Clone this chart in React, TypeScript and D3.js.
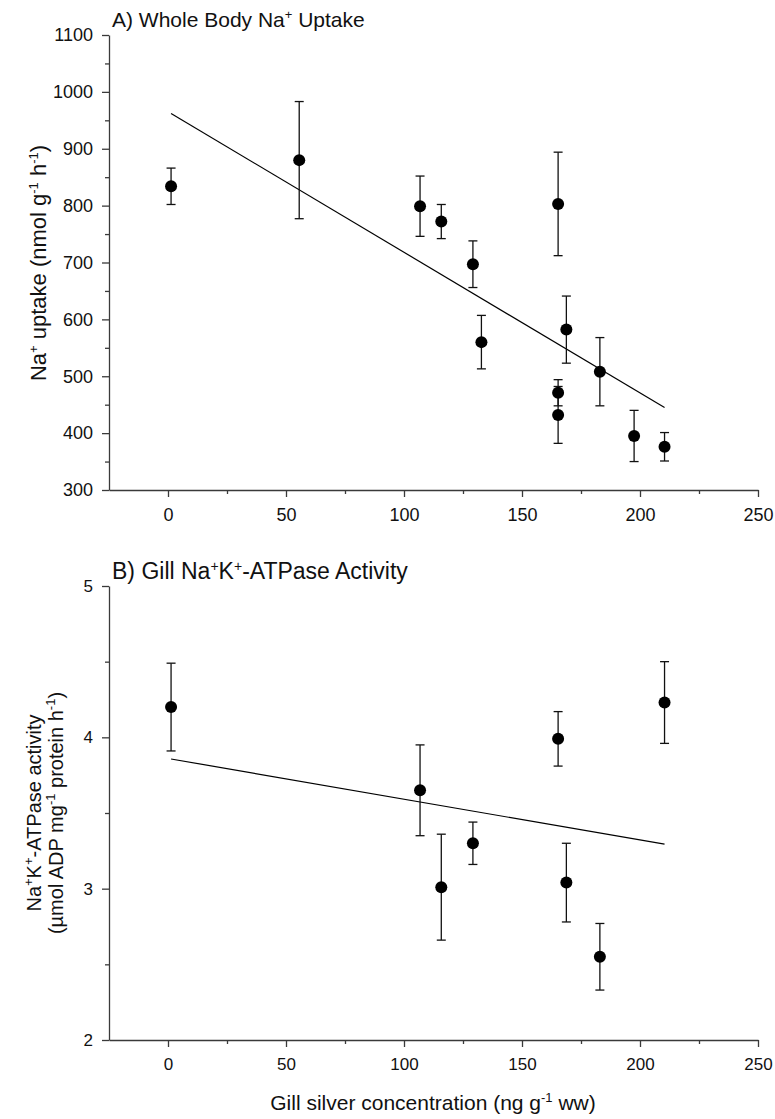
import React, { useEffect, useRef } from 'react';
import { select, scaleLinear, axisBottom, axisLeft, line } from 'd3';

const FONT = '"Liberation Sans", Arial, Helvetica, sans-serif';

// shared x axis (gill silver, ng/g ww)
const xDomain = [-25, 250];
const xMajor = [0, 50, 100, 150, 200, 250];
const xMinor = [25, 75, 125, 175, 225];

// A) whole body Na+ uptake
const naSilver = [1.3, 55.6, 106.8, 115.8, 129.2, 132.8, 165.3, 165.3, 165.3, 168.8, 183, 197.5, 210.4];
const naUptake = [834, 880, 799, 772, 697, 560, 803, 471, 432, 582, 508, 395, 376];
const naSem = [32, 103, 53, 30, 41, 47, 91, 23, 50, 59, 60, 45, 25];
const naFitX = [1.3, 210.4];
const naFitY = [962, 445];
const naMajor = [300, 400, 500, 600, 700, 800, 900, 1000, 1100];
const naMinor = [350, 450, 550, 650, 750, 850, 950, 1050];

// B) gill Na+K+-ATPase activity
const atpSilver = [1.3, 106.8, 115.8, 129.2, 165.3, 168.8, 183, 210.4];
const atpActivity = [4.2, 3.65, 3.01, 3.3, 3.99, 3.04, 2.55, 4.23];
const atpSem = [0.29, 0.3, 0.35, 0.14, 0.18, 0.26, 0.22, 0.27];
const atpFitX = [1.3, 210.4];
const atpFitY = [3.857, 3.294];
const atpMajor = [2, 3, 4, 5];
const atpMinor = [2.5, 3.5, 4.5];

const Panel = ({ top, bottom, xs, ys, sems, fitX, fitY, yDomain, yMajor, yMinor, fontSize }) => {
  const gRef = useRef(null);

  useEffect(() => {
    const g = select(gRef.current);
    g.selectAll('*').remove();

    const x = scaleLinear().domain(xDomain).range([109, 758]);
    const y = scaleLinear().domain(yDomain).range([bottom, top]);
    const fmt = d => String(d);

    // axes
    const xAxis = g.append('g').attr('transform', `translate(0, ${bottom})`);
    xAxis.call(axisBottom(x).tickValues(xMajor).tickFormat(fmt).tickSize(7).tickSizeOuter(0).tickPadding(11));
    xAxis.append('g').call(axisBottom(x).tickValues(xMinor).tickSize(4).tickFormat(() => ''))
      .select('.domain').remove();

    const yAxis = g.append('g').attr('transform', 'translate(109, 0)');
    yAxis.call(axisLeft(y).tickValues(yMajor).tickFormat(fmt).tickSize(7).tickSizeOuter(0).tickPadding(9));
    yAxis.append('g').call(axisLeft(y).tickValues(yMinor).tickSize(4).tickFormat(() => ''))
      .select('.domain').remove();

    g.selectAll('.domain, .tick line').attr('stroke', '#3a3a3a').attr('stroke-width', 1.3);
    g.selectAll('.tick text')
      .attr('font-family', FONT)
      .attr('font-size', fontSize)
      .attr('fill', '#111');

    // regression line
    const fit = fitX.map((v, i) => [x(v), y(fitY[i])]);
    g.append('path')
      .attr('d', line()(fit))
      .attr('fill', 'none')
      .attr('stroke', '#000')
      .attr('stroke-width', 1.2);

    // error bars
    const pts = xs.map((v, i) => ({ x: v, y: ys[i], e: sems[i] }));
    const bars = g.append('g').attr('stroke', '#111').attr('stroke-width', 1.3);
    bars.selectAll('line.v')
      .data(pts)
      .join('line')
      .attr('class', 'v')
      .attr('x1', d => x(d.x)).attr('x2', d => x(d.x))
      .attr('y1', d => y(d.y - d.e)).attr('y2', d => y(d.y + d.e));
    bars.selectAll('line.cap')
      .data(pts.flatMap(d => [d.y - d.e, d.y + d.e].map(v => ({ x: d.x, v }))))
      .join('line')
      .attr('class', 'cap')
      .attr('x1', d => x(d.x) - 4.5).attr('x2', d => x(d.x) + 4.5)
      .attr('y1', d => y(d.v)).attr('y2', d => y(d.v));

    // means
    g.append('g')
      .selectAll('circle')
      .data(pts)
      .join('circle')
      .attr('cx', d => x(d.x))
      .attr('cy', d => y(d.y))
      .attr('r', 6)
      .attr('fill', '#000');
  }, [top, bottom, xs, ys, sems, fitX, fitY, yDomain, yMajor, yMinor, fontSize]);

  return <g ref={gRef} />;
};

// text with superscripts: parts alternate normal / superscript
const Label = ({ parts, supSize, rise, ...rest }) => {
  let lifted = false;
  return (
    <text {...rest}>
      {parts.map((p, i) => {
        const sup = i % 2 === 1;
        let dy = 0;
        if (sup && !lifted) { dy = -rise; lifted = true; }
        if (!sup && lifted) { dy = rise; lifted = false; }
        return (
          <tspan key={i} dy={dy || undefined} fontSize={sup ? supSize : undefined}>{p}</tspan>
        );
      })}
    </text>
  );
};

export default function App() {
  return (
    <svg
      width={775}
      height={1119}
      style={{ position: 'absolute', left: 0, top: 0, background: '#fff' }}
      fontFamily={FONT}
      fill="#111"
    >
      <Panel
        top={35}
        bottom={490}
        xs={naSilver}
        ys={naUptake}
        sems={naSem}
        fitX={naFitX}
        fitY={naFitY}
        yDomain={[300, 1100]}
        yMajor={naMajor}
        yMinor={naMinor}
        fontSize={18}
      />
      <Panel
        top={586}
        bottom={1040}
        xs={atpSilver}
        ys={atpActivity}
        sems={atpSem}
        fitX={atpFitX}
        fitY={atpFitY}
        yDomain={[2, 5]}
        yMajor={atpMajor}
        yMinor={atpMinor}
        fontSize={17}
      />

      {/* panel titles */}
      <Label x={112} y={27} fontSize={21} supSize={13} rise={8}
        parts={['A) Whole Body Na', '+', ' Uptake']} />
      <Label x={112} y={579} fontSize={23} supSize={14} rise={8}
        parts={['B) Gill Na', '+', 'K', '+', '-ATPase Activity']} />

      {/* y titles */}
      <Label transform="translate(46, 263) rotate(-90)" textAnchor="middle" fontSize={22} supSize={13} rise={8}
        parts={['Na', '+', ' uptake (nmol g', '-1', ' h', '-1', ')']} />
      <Label transform="translate(41, 813) rotate(-90)" textAnchor="middle" fontSize={20} supSize={13} rise={8}
        parts={['Na', '+', 'K', '+', '-ATPase activity']} />
      <Label transform="translate(63, 813) rotate(-90)" textAnchor="middle" fontSize={20} supSize={13} rise={8}
        parts={['(µmol ADP mg', '-1', ' protein h', '-1', ')']} />

      {/* x title */}
      <Label x={433} y={1110} textAnchor="middle" fontSize={21} supSize={13} rise={8}
        parts={['Gill silver concentration (ng g', '-1', ' ww)']} />
    </svg>
  );
}
